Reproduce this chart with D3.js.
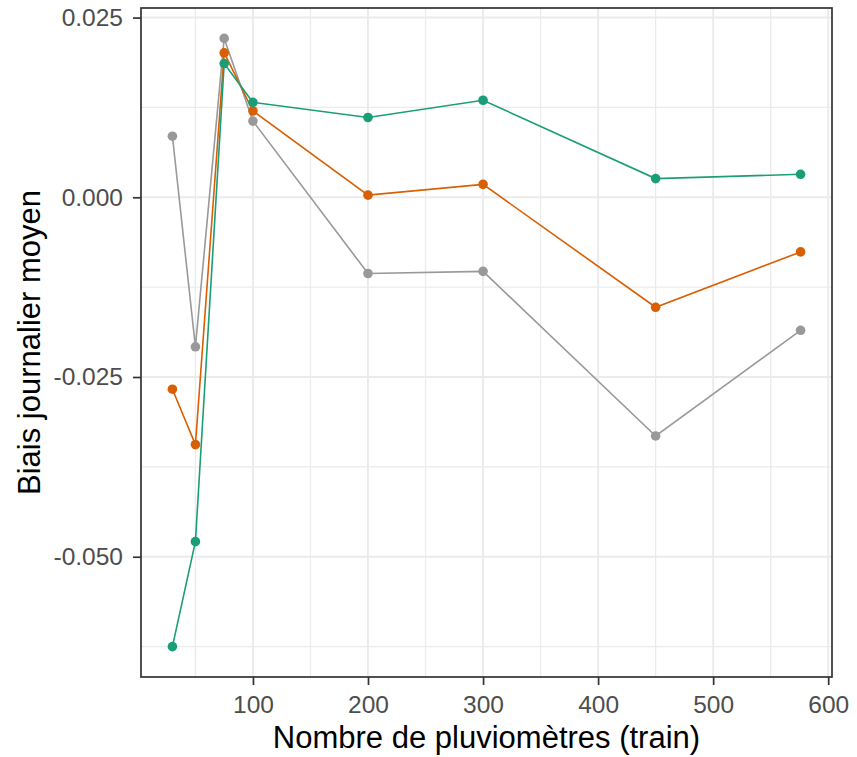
<!DOCTYPE html>
<html>
<head>
<meta charset="utf-8">
<script src="https://cdn.jsdelivr.net/npm/d3@7"></script>
<style>
  html, body { margin: 0; padding: 0; background: #fff; }
  svg { display: block; font-family: "Liberation Sans", Arial, sans-serif; }
</style>
</head>
<body>
<svg id="chart" width="857" height="757"></svg>
<script>
// Training-set sizes (number of rain gauges)
const nGauges = [30, 50, 75, 100, 200, 300, 450, 576];

// Mean daily bias per configuration
const biasGreen  = [-0.0625, -0.0479, 0.0186, 0.0132, 0.0111, 0.0135, 0.0026, 0.0032];
const biasOrange = [-0.0267, -0.0344, 0.0201, 0.0120, 0.0003, 0.0018, -0.0153, -0.0076];
const biasGrey   = [0.0085, -0.0208, 0.0221, 0.0106, -0.0106, -0.0103, -0.0332, -0.0185];

const seriesColors = ["#999999", "#D95F02", "#1B9E77"];

const xTicks = [100, 200, 300, 400, 500, 600];
const xMinor = [50, 150, 250, 350, 450, 550];
const yTicks = [0.025, 0, -0.025, -0.05];
const yMinor = [0.0125, -0.0125, -0.0375, -0.0625];
const yTickLabels = ["0.025", "0.000", "-0.025", "-0.050"];

const xTitle = "Nombre de pluviomètres (train)";
const yTitle = "Biais journalier moyen";

const series = [biasGrey, biasOrange, biasGreen];

const svg = d3.select("#chart");
const panel = { left: 141, top: 8, right: 832, bottom: 677 };

// 5% expansion of the data ranges on both axes
const xExt = d3.extent(nGauges);
const xPad = (xExt[1] - xExt[0]) * 0.05;
const allY = series.flat();
const yExt = d3.extent(allY);
const yPad = (yExt[1] - yExt[0]) * 0.05;

const x = d3.scaleLinear().domain([xExt[0] - xPad, xExt[1] + xPad]).range([panel.left, panel.right]);
const y = d3.scaleLinear().domain([yExt[0] - yPad, yExt[1] + yPad]).range([panel.bottom, panel.top]);

const g = svg.append("g");

// Grid lines
g.selectAll(".xminor").data(xMinor).join("line")
  .attr("x1", d => x(d)).attr("x2", d => x(d))
  .attr("y1", panel.top).attr("y2", panel.bottom)
  .attr("stroke", "#EBEBEB").attr("stroke-width", 1.3);
g.selectAll(".yminor").data(yMinor).join("line")
  .attr("y1", d => y(d)).attr("y2", d => y(d))
  .attr("x1", panel.left).attr("x2", panel.right)
  .attr("stroke", "#EBEBEB").attr("stroke-width", 1.3);
g.selectAll(".xmajor").data(xTicks).join("line")
  .attr("x1", d => x(d)).attr("x2", d => x(d))
  .attr("y1", panel.top).attr("y2", panel.bottom)
  .attr("stroke", "#EBEBEB").attr("stroke-width", 1.9);
g.selectAll(".ymajor").data(yTicks).join("line")
  .attr("y1", d => y(d)).attr("y2", d => y(d))
  .attr("x1", panel.left).attr("x2", panel.right)
  .attr("stroke", "#EBEBEB").attr("stroke-width", 1.9);

// Series lines and points
const line = d3.line().x((d, i) => x(nGauges[i])).y(d => y(d));
series.forEach((vals, k) => {
  g.append("path").datum(vals)
    .attr("d", line)
    .attr("fill", "none")
    .attr("stroke", seriesColors[k])
    .attr("stroke-width", 1.6);
  g.selectAll(null).data(vals).join("circle")
    .attr("cx", (d, i) => x(nGauges[i]))
    .attr("cy", d => y(d))
    .attr("r", 4.8)
    .attr("fill", seriesColors[k]);
});

// Panel border
svg.append("rect")
  .attr("x", panel.left).attr("y", panel.top)
  .attr("width", panel.right - panel.left).attr("height", panel.bottom - panel.top)
  .attr("fill", "none").attr("stroke", "#333333").attr("stroke-width", 1.7);

// Axes
const xAxis = d3.axisBottom(x).tickValues(xTicks).tickSize(8).tickPadding(11).tickFormat(d3.format("d"));
const yAxis = d3.axisLeft(y).tickValues(yTicks).tickSize(8).tickPadding(10)
  .tickFormat((d, i) => yTickLabels[i]);

const gx = svg.append("g").attr("transform", `translate(0,${panel.bottom})`).call(xAxis);
const gy = svg.append("g").attr("transform", `translate(${panel.left},0)`).call(yAxis);
[gx, gy].forEach(a => {
  a.select(".domain").remove();
  a.selectAll(".tick line").attr("stroke", "#333333").attr("stroke-width", 1.7);
  a.selectAll(".tick text").attr("fill", "#4D4D4D")
    .style("font-size", "24.5px")
    .style("font-family", "'Liberation Sans', Arial, sans-serif");
});

// Axis titles
svg.append("text")
  .attr("x", (panel.left + panel.right) / 2).attr("y", 748)
  .attr("text-anchor", "middle")
  .attr("fill", "#000")
  .style("font-size", "31px")
  .text(xTitle);
svg.append("text")
  .attr("transform", `translate(40,${(panel.top + panel.bottom) / 2}) rotate(-90)`)
  .attr("text-anchor", "middle")
  .attr("fill", "#000")
  .style("font-size", "31px")
  .text(yTitle);
</script>
</body>
</html>
